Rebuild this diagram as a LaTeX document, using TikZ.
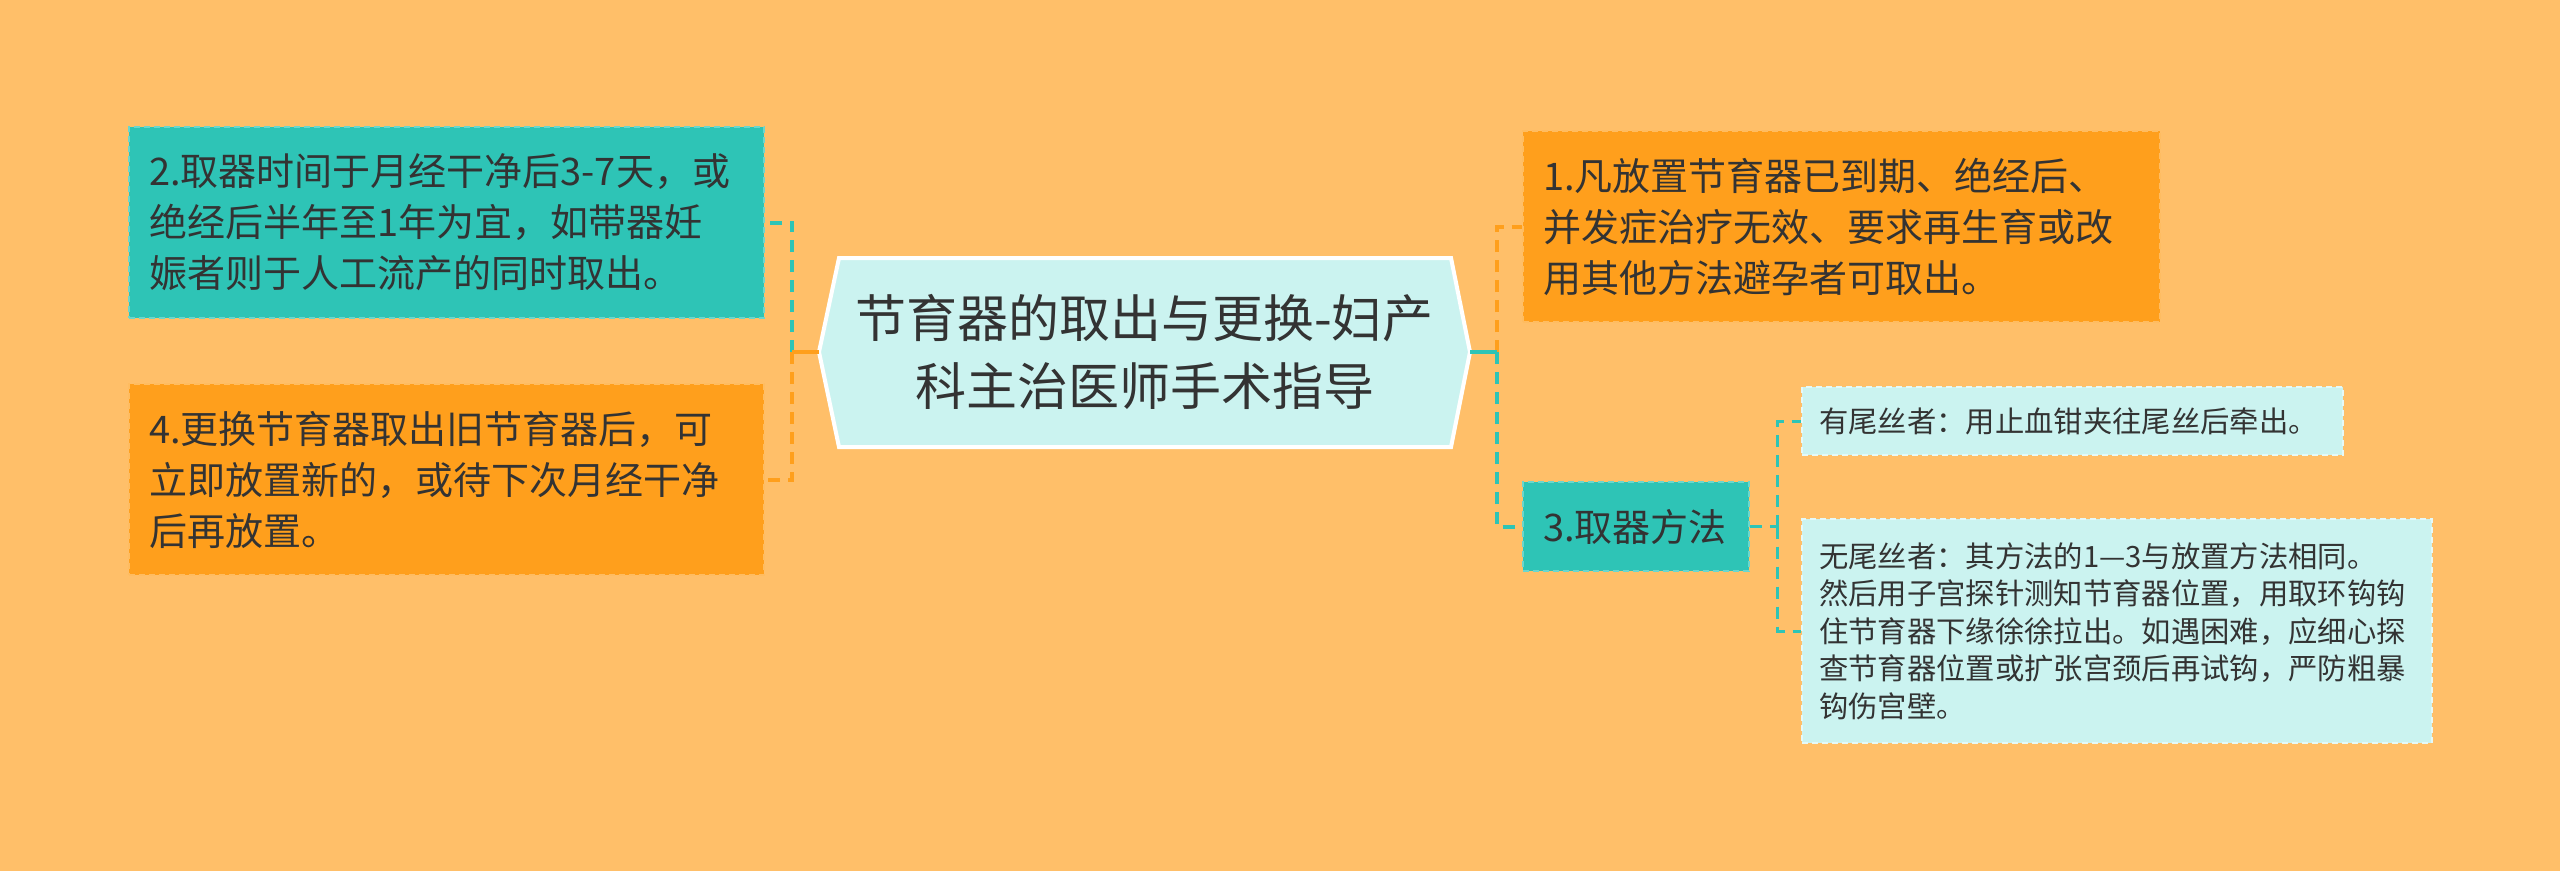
\documentclass[tikz,border=0pt]{standalone}
\usepackage{fontspec}
\setmainfont{Noto Sans CJK SC}
\definecolor{bg}{HTML}{FFBF69}
\definecolor{orng}{HTML}{FF9F1C}
\definecolor{tealc}{HTML}{2EC4B6}
\definecolor{lightc}{HTML}{CBF3F0}
\definecolor{txt}{HTML}{333333}
\begin{document}
\begin{tikzpicture}[x=0.75pt,y=-0.75pt,
  box/.style={rectangle, inner ysep=0pt, align=left, text=txt,
    dash pattern=on 4.5pt off 3pt, line width=1.2pt},
  lvlone/.style={box, inner xsep=15pt, minimum height=143.25pt,
    font=\fontsize{28.5pt}{38.25pt}\selectfont},
  lvltwo/.style={box, inner xsep=12.75pt,
    font=\fontsize{22pt}{28.1pt}\selectfont},
  obox/.style={fill=orng, draw=orng!70!white},
  tbox/.style={fill=tealc, draw=tealc!70!white},
  lbox/.style={fill=lightc, draw=lightc!50!white},
  conn/.style={line width=3pt, dash pattern=on 9pt off 6pt},
  subconn/.style={line width=2.25pt, dash pattern=on 9pt off 6pt, draw=tealc},
  stem/.style={line width=3pt}
]
\useasboundingbox[fill=bg] (0,0) rectangle (2560,871);

% central hexagon
\coordinate (hexL) at (819,352);
\coordinate (hexR) at (1470,352);
\filldraw[fill=lightc, draw=white, line width=3pt, line join=miter]
  (hexL) -- (839,258) -- (1451,258) -- (hexR) -- (1451,447) -- (839,447) -- cycle;
\node[align=center, text=txt, inner sep=0pt,
  font=\fontsize{38.25pt}{51pt}\selectfont] (hex) at (1144.5,352)
  {节育器的取出与更换-妇产\\科主治医师手术指导};

% left boxes
\node[lvlone, tbox, text width=446.25pt] (b2) at (446.5,222.5)
  {2.取器时间于月经干净后3-7天，或\\绝经后半年至1年为宜，如带器妊\\娠者则于人工流产的同时取出。};
\node[lvlone, obox, text width=446.25pt] (b4) at (446.5,479.5)
  {4.更换节育器取出旧节育器后，可\\立即放置新的，或待下次月经干净\\后再放置。};

% right boxes
\node[lvlone, obox, text width=447.75pt] (b1) at (1841.5,226.5)
  {1.凡放置节育器已到期、绝经后、\\并发症治疗无效、要求再生育或改\\用其他方法避孕者可取出。};
\node[lvlone, tbox, text width=139.5pt, minimum height=66.75pt] (b3) at (1636,526.5)
  {3.取器方法};

% children of 3
\node[lvltwo, lbox, text width=380.25pt, minimum height=51pt] (ca) at (2072.5,421)
  {有尾丝者：用止血钳夹往尾丝后牵出。};
\node[lvltwo, lbox, text width=447pt, minimum height=168pt] (cb) at (2117,631)
  {无尾丝者：其方法的1—3与放置方法相同。\\然后用子宫探针测知节育器位置，用取环钩钩\\住节育器下缘徐徐拉出。如遇困难，应细心探\\查节育器位置或扩张宫颈后再试钩，严防粗暴\\钩伤宫壁。};

% connectors left
\coordinate (tl) at (792,352);
\draw[conn, tealc] (tl) |- (b2.east);
\draw[conn, orng] (tl) |- (b4.east);
\draw[stem, orng] (hexL) -- (tl);

% connectors right
\coordinate (tr) at (1497,352);
\draw[conn, orng] (tr) |- (b1.west);
\draw[conn, tealc] (tr) |- (b3.west);
\draw[stem, tealc] (hexR) -- (tr);

% connectors level two
\coordinate (ts) at (1777,526.5);
\draw[subconn] (b3.east) -- (ts);
\draw[subconn] (ts) |- (ca.west);
\draw[subconn] (ts) |- (cb.west);
\end{tikzpicture}
\end{document}
